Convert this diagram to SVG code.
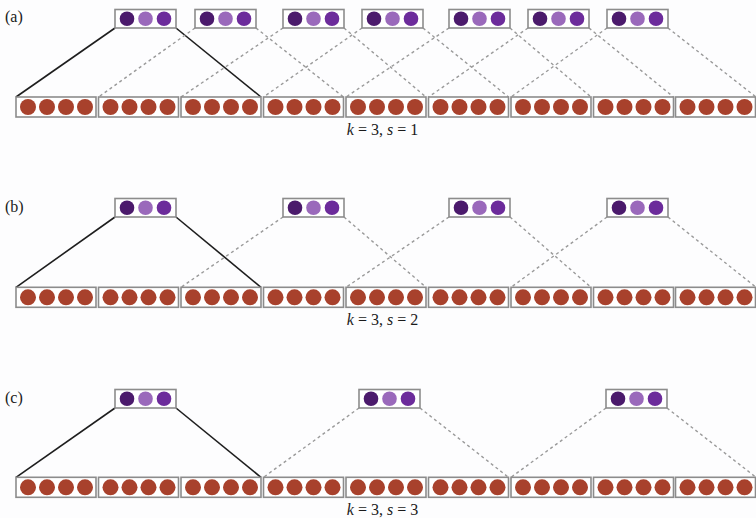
<svg xmlns="http://www.w3.org/2000/svg" xmlns:xlink="http://www.w3.org/1999/xlink" width="756" height="518" viewBox="0 0 756 518">
<style>
.bg{fill:#fdfdfe}
.box{fill:#ffffff;stroke:#8c8c8c;stroke-width:1.6}
.red{fill:#a8412c}
.p1{fill:#4b1a6c}
.p2{fill:#9a69bb}
.p3{fill:#6c2b9b}
.solid{stroke:#1e1e1e;stroke-width:1.6;fill:none}
.dash{stroke:#9a9a9a;stroke-width:1.4;stroke-dasharray:3 3;fill:none}
.lbl{font-family:"Liberation Serif","Times New Roman",serif;font-size:16px;fill:#1a1a1a}
.it{font-style:italic}
</style>
<defs>
<g id="inp">
<rect class="box" x="0" y="0" width="80" height="20"/>
<circle class="red" cx="12" cy="10" r="8"/>
<circle class="red" cx="31" cy="10" r="8"/>
<circle class="red" cx="50" cy="10" r="8"/>
<circle class="red" cx="69" cy="10" r="8"/>
</g>
<g id="out">
<rect class="box" x="0" y="0" width="61" height="18.5"/>
<circle class="p1" cx="12" cy="9.25" r="7.3"/>
<circle class="p2" cx="30.5" cy="9.25" r="7.3"/>
<circle class="p3" cx="49" cy="9.25" r="7.3"/>
</g>
</defs>
<rect class="bg" x="0" y="0" width="756" height="518"/>

<g id="connectors">
<!-- (a) k=3 s=1 -->
<line class="solid" x1="115" y1="28" x2="16" y2="97"/>
<line class="solid" x1="176" y1="28" x2="261" y2="97"/>
<line class="dash" x1="195" y1="28" x2="98.5" y2="97"/>
<line class="dash" x1="256" y1="28" x2="343.5" y2="97"/>
<line class="dash" x1="283" y1="28" x2="181" y2="97"/>
<line class="dash" x1="344" y1="28" x2="426" y2="97"/>
<line class="dash" x1="362" y1="28" x2="263.5" y2="97"/>
<line class="dash" x1="423" y1="28" x2="508.5" y2="97"/>
<line class="dash" x1="449" y1="28" x2="346" y2="97"/>
<line class="dash" x1="510" y1="28" x2="591" y2="97"/>
<line class="dash" x1="528" y1="28" x2="428.5" y2="97"/>
<line class="dash" x1="589" y1="28" x2="673.5" y2="97"/>
<line class="dash" x1="607" y1="28" x2="511" y2="97"/>
<line class="dash" x1="668" y1="28" x2="756" y2="97"/>
<!-- (b) k=3 s=2 -->
<line class="solid" x1="115" y1="217" x2="16" y2="287.3"/>
<line class="solid" x1="176" y1="217" x2="261" y2="287.3"/>
<line class="dash" x1="283" y1="217" x2="181" y2="287.3"/>
<line class="dash" x1="344" y1="217" x2="426" y2="287.3"/>
<line class="dash" x1="449" y1="217" x2="346" y2="287.3"/>
<line class="dash" x1="510" y1="217" x2="591" y2="287.3"/>
<line class="dash" x1="607" y1="217" x2="511" y2="287.3"/>
<line class="dash" x1="668" y1="217" x2="756" y2="287.3"/>
<!-- (c) k=3 s=3 -->
<line class="solid" x1="115" y1="408" x2="16" y2="477.3"/>
<line class="solid" x1="176" y1="408" x2="261" y2="477.3"/>
<line class="dash" x1="359" y1="408" x2="263.5" y2="477.3"/>
<line class="dash" x1="420" y1="408" x2="508.5" y2="477.3"/>
<line class="dash" x1="606" y1="408" x2="511" y2="477.3"/>
<line class="dash" x1="667" y1="408" x2="756" y2="477.3"/>
</g>

<!-- (a) -->
<g id="a-inputs">
<g id="a-in1"><use xlink:href="#inp" x="16" y="97"/></g>
<g id="a-in2"><use xlink:href="#inp" x="98.5" y="97"/></g>
<g id="a-in3"><use xlink:href="#inp" x="181" y="97"/></g>
<g id="a-in4"><use xlink:href="#inp" x="263.5" y="97"/></g>
<g id="a-in5"><use xlink:href="#inp" x="346" y="97"/></g>
<g id="a-in6"><use xlink:href="#inp" x="428.5" y="97"/></g>
<g id="a-in7"><use xlink:href="#inp" x="511" y="97"/></g>
<g id="a-in8"><use xlink:href="#inp" x="593.5" y="97"/></g>
<g id="a-in9"><use xlink:href="#inp" x="675.5" y="97"/></g>
</g>
<g id="a-outputs">
<g id="a-out1"><use xlink:href="#out" x="115" y="9.5"/></g>
<g id="a-out2"><use xlink:href="#out" x="195" y="9.5"/></g>
<g id="a-out3"><use xlink:href="#out" x="283" y="9.5"/></g>
<g id="a-out4"><use xlink:href="#out" x="362" y="9.5"/></g>
<g id="a-out5"><use xlink:href="#out" x="449" y="9.5"/></g>
<g id="a-out6"><use xlink:href="#out" x="528" y="9.5"/></g>
<g id="a-out7"><use xlink:href="#out" x="607" y="9.5"/></g>
</g>
<text class="lbl" x="5" y="22">(a)</text>
<text class="lbl" x="382.5" y="135" text-anchor="middle"><tspan class="it">k</tspan> = 3, <tspan class="it">s</tspan> = 1</text>

<!-- (b) -->
<g id="b-inputs">
<g id="b-in1"><use xlink:href="#inp" x="16" y="287.3"/></g>
<g id="b-in2"><use xlink:href="#inp" x="98.5" y="287.3"/></g>
<g id="b-in3"><use xlink:href="#inp" x="181" y="287.3"/></g>
<g id="b-in4"><use xlink:href="#inp" x="263.5" y="287.3"/></g>
<g id="b-in5"><use xlink:href="#inp" x="346" y="287.3"/></g>
<g id="b-in6"><use xlink:href="#inp" x="428.5" y="287.3"/></g>
<g id="b-in7"><use xlink:href="#inp" x="511" y="287.3"/></g>
<g id="b-in8"><use xlink:href="#inp" x="593.5" y="287.3"/></g>
<g id="b-in9"><use xlink:href="#inp" x="675.5" y="287.3"/></g>
</g>
<g id="b-outputs">
<g id="b-out1"><use xlink:href="#out" x="115" y="198.5"/></g>
<g id="b-out2"><use xlink:href="#out" x="283" y="198.5"/></g>
<g id="b-out3"><use xlink:href="#out" x="449" y="198.5"/></g>
<g id="b-out4"><use xlink:href="#out" x="607" y="198.5"/></g>
</g>
<text class="lbl" x="5" y="212">(b)</text>
<text class="lbl" x="382.5" y="325" text-anchor="middle"><tspan class="it">k</tspan> = 3, <tspan class="it">s</tspan> = 2</text>

<!-- (c) -->
<g id="c-inputs">
<g id="c-in1"><use xlink:href="#inp" x="16" y="477.3"/></g>
<g id="c-in2"><use xlink:href="#inp" x="98.5" y="477.3"/></g>
<g id="c-in3"><use xlink:href="#inp" x="181" y="477.3"/></g>
<g id="c-in4"><use xlink:href="#inp" x="263.5" y="477.3"/></g>
<g id="c-in5"><use xlink:href="#inp" x="346" y="477.3"/></g>
<g id="c-in6"><use xlink:href="#inp" x="428.5" y="477.3"/></g>
<g id="c-in7"><use xlink:href="#inp" x="511" y="477.3"/></g>
<g id="c-in8"><use xlink:href="#inp" x="593.5" y="477.3"/></g>
<g id="c-in9"><use xlink:href="#inp" x="675.5" y="477.3"/></g>
</g>
<g id="c-outputs">
<g id="c-out1"><use xlink:href="#out" x="115" y="389.5"/></g>
<g id="c-out2"><use xlink:href="#out" x="359" y="389.5"/></g>
<g id="c-out3"><use xlink:href="#out" x="606" y="389.5"/></g>
</g>
<text class="lbl" x="5" y="403">(c)</text>
<text class="lbl" x="382.5" y="515" text-anchor="middle"><tspan class="it">k</tspan> = 3, <tspan class="it">s</tspan> = 3</text>
</svg>
